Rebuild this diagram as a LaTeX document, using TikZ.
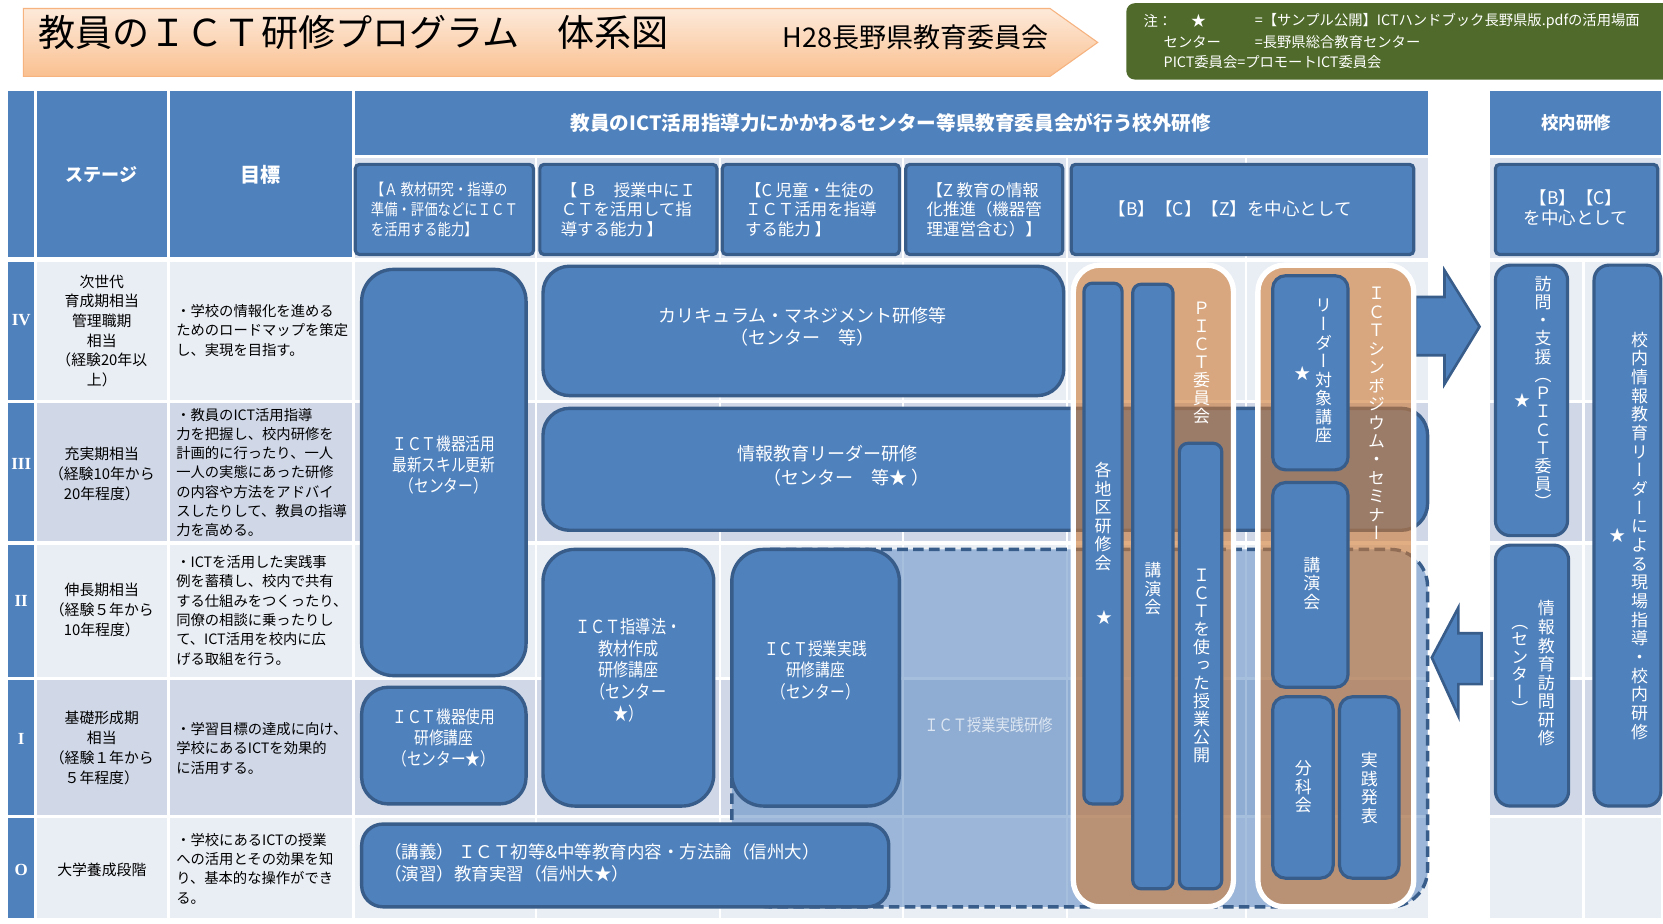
\documentclass[tikz,border=0pt]{standalone}
\usepackage{fontspec}
\setmainfont{Noto Sans CJK JP}
\newfontfamily\vjp[RawFeature=+vert]{Noto Sans CJK JP}
\newfontfamily\narrowjp[FakeStretch=0.84]{Noto Sans CJK JP}
\newfontfamily\serifrm{Liberation Serif}
\usetikzlibrary{fit}
\newcommand\fs[2]{\fontsize{#1}{#2}\selectfont}
\ExplSyntaxOn
\NewDocumentCommand\vstack{O{17.5pt}m}
 {
  \vbox
   {
    \baselineskip=#1\relax
    \lineskiplimit=-\maxdimen\relax
    \tl_map_inline:nn {#2} { \hbox_to_wd:nn {1em} { \hss ##1 \hss } }
   }
 }
\ExplSyntaxOff
\definecolor{mblue}{HTML}{4F81BD}
\definecolor{dblue}{HTML}{385D8A}
\definecolor{rowL}{HTML}{E9EDF4}
\definecolor{rowD}{HTML}{D0D8E8}
\definecolor{subbg}{HTML}{DCE3EF}
\definecolor{orng}{HTML}{CE7932}
\definecolor{olive}{HTML}{4F6A2A}
\definecolor{ttop}{HTML}{FDEADA}
\definecolor{tbot}{HTML}{FAC090}
\definecolor{tbrd}{HTML}{F6B27F}
\definecolor{ltxt}{HTML}{DCE6F2}
\begin{document}
\begin{tikzpicture}[x=1pt,y=-1pt,
  bbox/.style={draw=dblue, line width=3.2pt, fill=mblue, inner sep=0pt, text=white, align=center},
  sbox/.style={draw=dblue, line width=3pt, fill=mblue, rounded corners=4pt, inner sep=0pt},
  wt/.style={text=white, inner sep=0pt, align=center},
  bt/.style={text=black, inner sep=0pt},
  vt/.style={text=white, inner sep=0pt, font=\vjp\fs{16}{17.5}},
  panel/.style={fill=orng, fill opacity=0.6, draw=white, line width=5pt, rounded corners=25pt},
  arr/.style={fill=mblue, draw=dblue, line width=2.5pt, line join=miter}
]
\useasboundingbox (0,0) rectangle (1568,870.3);
\fill[white] (0,0) rectangle (1568,870.3);

% ---------- title banner ----------
\shadedraw[top color=ttop, bottom color=tbot, draw=tbrd, line width=1pt]
  (22,8) -- (990,8) -- (1035,40) -- (990,72) -- (22,72) -- cycle;
\node[bt, anchor=west, font=\fs{35}{40}] (title) at (36,31) {教員のＩＣＴ研修プログラム　体系図};
\node[bt, anchor=west, font=\fs{25.5}{28}] (org) at (738,35) {H28長野県教育委員会};

% ---------- note ----------
\fill[olive, rounded corners=8pt] (1062,3) rectangle (1585,75);
\node[wt, anchor=west, font=\fs{13.5}{16}] (n1a) at (1078,20) {注：};
\node[wt, font=\fs{14}{16}] (n1b) at (1130,20) {★};
\node[wt, anchor=west, font=\fs{13.5}{16}] (n1c) at (1183,20) {=【サンプル公開】ICTハンドブック長野県版.pdfの活用場面};
\node[wt, anchor=west, font=\fs{13.5}{16}] (n2a) at (1097,40) {センター};
\node[wt, anchor=west, font=\fs{13.5}{16}] (n2b) at (1183,40) {=長野県総合教育センター};
\node[wt, anchor=west, font=\fs{13.5}{16}] (n3a) at (1097,59) {PICT委員会=プロモートICT委員会};

% ---------- header ----------
\fill[mblue] (8,86) rectangle (32,242);
\fill[mblue] (35,86) rectangle (157,242);
\fill[mblue] (160,86) rectangle (332,242);
\node[wt, font=\bfseries\fs{17}{20}] (hst) at (96,165) {ステージ};
\node[wt, font=\bfseries\fs{19}{22}] (hgo) at (246,165) {目標};
\fill[mblue] (335,86) rectangle (1346,146);
\node[wt, font=\bfseries\fs{18.5}{22}] (hmain) at (840,116) {教員のICT活用指導力にかかわるセンター等県教育委員会が行う校外研修};
\fill[mblue] (1405,86) rectangle (1566,146);
\node[wt, font=\bfseries\fs{16.5}{20}] (hin) at (1486,116) {校内研修};
\fill[subbg] (335,149) rectangle (1346,243);
\fill[subbg] (1405,149) rectangle (1566,243);

% ---------- rows ----------
\foreach \ya/\yb/\rc in {247/377/rowL, 380/510/rowD, 514/638/rowL, 641/768/rowD, 771/866/rowL} {
  \fill[mblue] (8,\ya) rectangle (32,\yb);
  \fill[\rc] (35,\ya) rectangle (157,\yb);
  \fill[\rc] (160,\ya) rectangle (332,\yb);
  \fill[\rc] (335,\ya) rectangle (1346,\yb);
  \fill[\rc] (1405,\ya) rectangle (1566,\yb);
}
\foreach \xx in {505.5, 678.5, 851, 1006, 1175} {
  \draw[white, line width=2pt] (\xx,149) -- (\xx,866);
}
\draw[white, line width=2pt] (1493,247) -- (1493,866);

% roman numerals
\node[wt, font=\serifrm\bfseries\fs{16}{18}] (r4) at (20,302) {IV};
\node[wt, font=\serifrm\bfseries\fs{16}{18}] (r3) at (20,437) {III};
\node[wt, font=\serifrm\bfseries\fs{16}{18}] (r2) at (20,567) {II};
\node[wt, font=\serifrm\bfseries\fs{16}{18}] (r1) at (20,697) {I};
\node[wt, font=\serifrm\bfseries\fs{16}{18}] (r0) at (20,820) {O};

% stage texts
\node[bt, align=center, font=\fs{14}{18.5}] (s4) at (96,312) {次世代\\育成期相当\\管理職期\\相当\\（経験20年以\\上）};
\node[bt, align=center, font=\fs{14}{19}] (s3) at (96,447) {充実期相当\\（経験10年から\\20年程度）};
\node[bt, align=center, font=\fs{14}{19}] (s2) at (96,575) {伸長期相当\\（経験５年から\\10年程度）};
\node[bt, align=center, font=\fs{14}{19}] (s1) at (96,705) {基礎形成期\\相当\\（経験１年から\\５年程度）};
\node[bt, align=center, font=\fs{14}{19}] (s0) at (96,820) {大学養成段階};

% goal texts
\node[bt, anchor=west, align=left, font=\fs{13.5}{18.5}] (g4) at (166,311.5) {・学校の情報化を進める\\ためのロードマップを策定\\し、実現を目指す。};
\node[bt, anchor=west, align=left, font=\fs{13.5}{18.2}] (g3) at (166,445.5) {・教員のICT活用指導\\力を把握し、校内研修を\\計画的に行ったり、一人\\一人の実態にあった研修\\の内容や方法をアドバイ\\スしたりして、教員の指導\\力を高める。};
\node[bt, anchor=west, align=left, font=\fs{13.5}{18.2}] (g2) at (166,575.5) {・ICTを活用した実践事\\例を蓄積し、校内で共有\\する仕組みをつくったり、\\同僚の相談に乗ったりし\\て、ICT活用を校内に広\\げる取組を行う。};
\node[bt, anchor=west, align=left, font=\fs{13.5}{18.5}] (g1) at (166,705.5) {・学習目標の達成に向け、\\学校にあるICTを効果的\\に活用する。};
\node[bt, anchor=west, align=left, font=\fs{13.5}{18.2}] (g0) at (166,819) {・学校にあるICTの授業\\への活用とその効果を知\\り、基本的な操作ができ\\る。};

% ---------- sub-header boxes ----------
\node[sbox, fit={(335,155) (503,240)}] (ha) {};
\node[wt, align=left, font=\narrowjp\fs{15}{18.5}] (hat) at (ha) {【Ａ 教材研究・指導の\\準備・評価などにＩＣＴ\\を活用する能力】};
\node[sbox, fit={(509,155) (676,240)}] (hb) {};
\node[wt, align=left, font=\fs{15.5}{18.5}] (hbt) at (hb) {【 Ｂ　授業中にＩ\\ＣＴを活用して指\\導する能力 】};
\node[sbox, fit={(681,155) (848,240)}] (hc) {};
\node[wt, align=left, font=\fs{15.5}{18.5}] (hct) at (hc) {【C 児童・生徒の\\ＩＣＴ活用を指導\\する能力 】};
\node[sbox, fit={(854,155) (1002,240)}] (hz) {};
\node[wt, align=left, font=\fs{15.5}{18.5}] (hzt) at (hz) {【Z 教育の情報\\化推進（機器管\\理運営含む）】};
\node[sbox, fit={(1010,155) (1333,240)}] (hbcz) {};
\node[wt, font=\fs{16.5}{20}] (hbczt) at (1160,197) {【B】【C】【Z】を中心として};
\node[sbox, fit={(1410,155) (1563,240)}] (hr) {};
\node[wt, font=\fs{16.5}{19}] (hrt) at (1486,196) {【B】【C】\\を中心として};

% ---------- main boxes ----------
\node[bbox, rounded corners=30pt, fit={(341,254) (496,637)}, font=\narrowjp\fs{16.5}{20}] (k1) {ＩＣＴ機器活用\\最新スキル更新\\（センター）};
\node[bbox, rounded corners=25pt, fit={(512,251) (1003,373)}] (k2) {};
\node[wt, font=\fs{17}{20}] (k2t) at (757,308) {カリキュラム・マネジメント研修等\\（センター　等）};
\node[bbox, rounded corners=25pt, fit={(512,385) (1346,500)}] (k3) {};
\node[wt, font=\fs{17}{20}] (k3a) at (780,428) {情報教育リーダー研修};
\node[wt, font=\fs{17}{20}] (k3b) at (798,450) {（センター　等★ ）};
\node[bbox, rounded corners=25pt, fit={(341,648) (496,758)}, font=\narrowjp\fs{16.5}{20}] (k4) {ＩＣＴ機器使用\\研修講座\\（センター★）};
\node[bbox, rounded corners=30pt, fit={(512,518) (673,760)}, font=\narrowjp\fs{17}{20.5}] (k5) {ＩＣＴ指導法・\\教材作成\\研修講座\\（センター\\★）};

% dashed region
\filldraw[fill=mblue, fill opacity=0.5, draw=dblue, line width=3.2pt, dash pattern=on 10pt off 5pt, rounded corners=35pt]
  (690,518) rectangle (1346,855);

\node[bbox, rounded corners=30pt, fit={(690,518) (848,760)}, font=\narrowjp\fs{16.5}{20.5}] (k6) {ＩＣＴ授業実践\\研修講座\\（センター）};
\node[bbox, rounded corners=20pt, fit={(341,777) (838,855)}] (k7) {};
\node[wt, anchor=west, align=left, font=\fs{16.5}{21}] (k7t) at (362,813.5) {（講義）\ ＩＣＴ初等\&中等教育内容・方法論（信州大）\\（演習）教育実習（信州大★）};
\node[inner sep=0pt, text=ltxt, font=\narrowjp\fs{16}{18}] (jt) at (932,684) {ＩＣＴ授業実践研修};

% ---------- arrows ----------
\filldraw[arr] (1335,280) -- (1362,280) -- (1362,255) -- (1395,308) -- (1362,362) -- (1362,335) -- (1335,335) -- cycle;
\filldraw[arr] (1397,597) -- (1375,597) -- (1375,573) -- (1350,620) -- (1375,675) -- (1375,645) -- (1397,645) -- cycle;

% ---------- orange panels ----------
\filldraw[panel] (1012,250) rectangle (1163,855);
\filldraw[panel] (1186,250) rectangle (1333,855);

\node[bbox, line width=3pt, rounded corners=8pt, fit={(1022,267) (1058,758)}] (p1a) {};
\node[vt] (p1at) at (1040,487) {\vstack{各地区研修会}};
\node[wt, font=\fs{15}{16}] (p1as) at (1041,582) {★};
\node[bbox, line width=3pt, rounded corners=8pt, fit={(1068,268) (1106,838)}] (p1b) {};
\node[vt] (p1bt) at (1087,555) {\vstack{講演会}};
\node[vt] (pict) at (1133,342) {\vstack[17pt]{ＰＩＣＴ委員会}};
\node[bbox, line width=3pt, rounded corners=8pt, fit={(1112,418) (1152,838)}] (p1c) {};
\node[vt] (p1ct) at (1133,628) {\vstack[17pt]{ＩＣＴを使った授業公開}};

\node[bbox, line width=3pt, rounded corners=12pt, fit={(1200,260) (1271,443)}] (p2a) {};
\node[vt] (p2at) at (1248,350) {\vstack{リーダー対象講座}};
\node[wt, font=\fs{15}{16}] (p2as) at (1228,352) {★};
\node[vt] (symp) at (1298,390) {\vstack[17.4pt]{ＩＣＴシンポジウム・セミナー}};
\node[bbox, line width=3pt, rounded corners=12pt, fit={(1200,455) (1271,648)}] (p2b) {};
\node[vt] (p2bt) at (1237,550) {\vstack{講演会}};
\node[bbox, line width=3pt, rounded corners=12pt, fit={(1200,657) (1257,828)}] (p2c) {};
\node[vt] (p2ct) at (1229,742) {\vstack{分科会}};
\node[bbox, line width=3pt, rounded corners=12pt, fit={(1263,657) (1319,828)}] (p2d) {};
\node[vt] (p2dt) at (1291,743) {\vstack{実践発表}};

% ---------- right column ----------
\node[bbox, line width=3pt, rounded corners=14pt, fit={(1410,250) (1478,505)}] (q1) {};
\node[vt] (q1t) at (1455,370) {\vstack[17.2pt]{訪問・支援（ＰＩＣＴ委員）}};
\node[wt, font=\fs{15}{16}] (q1s) at (1435,378) {★};
\node[bbox, line width=3pt, rounded corners=14pt, fit={(1410,514) (1479,760)}] (q2) {};
\node[vt] (q2t) at (1458,635) {\vstack{情報教育訪問研修}};
\node[vt] (q2u) at (1433,632) {\vstack[16.5pt]{（センター）}};
\node[bbox, line width=3pt, rounded corners=14pt, fit={(1503,250) (1566,760)}] (q3) {};
\node[vt] (q3t) at (1546,505) {\vstack[17.6pt]{校内情報教育リーダーによる現場指導・校内研修}};
\node[wt, font=\fs{15}{16}] (q3s) at (1525,505) {★};
\end{tikzpicture}
\end{document}
